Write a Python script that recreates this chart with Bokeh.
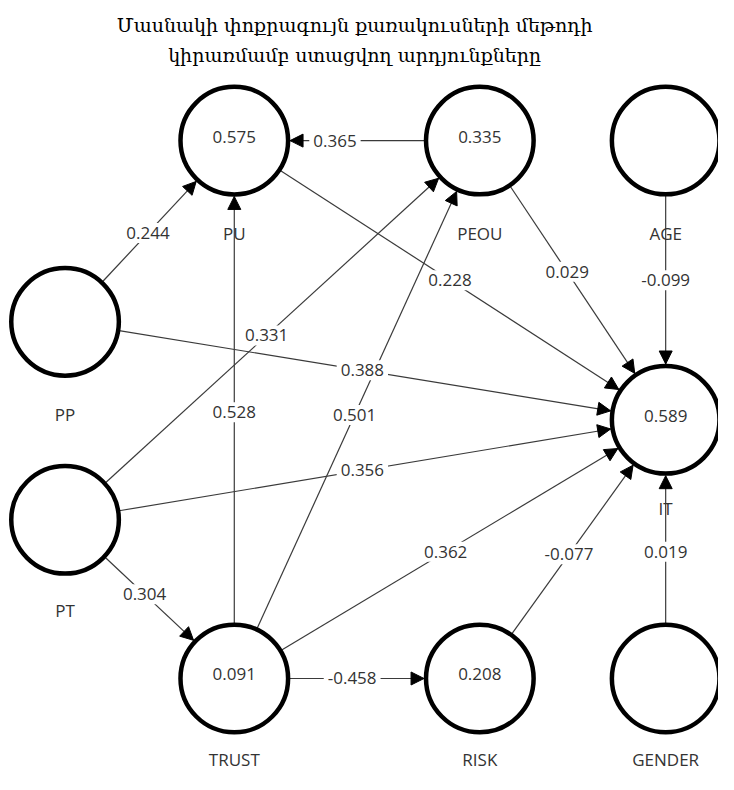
import numpy as np
from bokeh.plotting import figure
from bokeh.models import ColumnDataSource, Arrow, NormalHead, Range1d
from bokeh.core.properties import value
from bokeh.embed import file_html
from bokeh.resources import INLINE

# ---- data ----
title_lines = ["Մասնակի փոքրագույն քառակուսների մեթոդի",
               "կիրառմամբ ստացվող արդյունքները"]
nodes = ["PU", "PEOU", "AGE", "PP", "IT", "PT", "TRUST", "RISK", "GENDER"]
r2 = ["0.575", "0.335", "", "", "0.589", "", "0.091", "0.208", ""]
path_from = ["PP", "PEOU", "PU", "PEOU", "AGE", "PT", "PP", "TRUST", "TRUST",
             "PT", "TRUST", "RISK", "GENDER", "PT", "TRUST"]
path_to = ["PU", "PU", "IT", "IT", "IT", "PEOU", "IT", "PU", "PEOU",
           "IT", "IT", "IT", "IT", "TRUST", "RISK"]
coef = ["0.244", "0.365", "0.228", "0.029", "-0.099", "0.331", "0.388", "0.528",
        "0.501", "0.356", "0.362", "-0.077", "0.019", "0.304", "-0.458"]

# ---- layout (image-pixel coordinates) ----
pos = {"PU": (239, 143), "PEOU": (490, 143), "AGE": (680, 143),
       "PP": (66, 328), "IT": (680, 428), "PT": (66, 530),
       "TRUST": (239, 692), "RISK": (490, 692), "GENDER": (680, 692)}
label_t = [0.49, 0.59, 0.5, 0.47, 0.5, 0.486, 0.495, 0.495, 0.49,
           0.495, 0.49, 0.48, 0.49, 0.47, 0.48]
R = 55

W, H = 718, 774
p = figure(width=W, height=H, output_backend="svg", toolbar_location=None,
           x_range=Range1d(0, 734), y_range=Range1d(790, 0), min_border=0)
p.axis.visible = False
p.grid.visible = False
p.outline_line_color = None
p.background_fill_color = "white"

xs0, ys0, xs1, ys1, lx, ly = [], [], [], [], [], []
for a, b, t in zip(path_from, path_to, label_t):
    (x0, y0), (x1, y1) = pos[a], pos[b]
    d = np.hypot(x1 - x0, y1 - y0)
    ux, uy = (x1 - x0) / d, (y1 - y0) / d
    xs0.append(x0 + ux * (R + 1)); ys0.append(y0 + uy * (R + 1))
    xs1.append(x1 - ux * (R + 2)); ys1.append(y1 - uy * (R + 2))
    lx.append(x0 + (x1 - x0) * t); ly.append(y0 + (y1 - y0) * t)

# path lines
p.segment(x0=xs0, y0=ys0, x1=xs1, y1=ys1, line_color="#3a3a3a", line_width=1.2)

# arrow heads only
asrc = ColumnDataSource(dict(x0=xs0, y0=ys0, x1=xs1, y1=ys1))
p.add_layout(Arrow(source=asrc, x_start="x0", y_start="y0", x_end="x1", y_end="y1",
                   line_alpha=0,
                   end=NormalHead(size=13, fill_color="black", line_color="black")))

# path coefficient labels with white background
p.text(x=lx, y=ly, text=coef, text_align="center", text_baseline="middle",
       text_font=value("Open Sans"), text_font_size="17px", text_color="#333333",
       background_fill_color="white", padding=4)

# node circles
nx = [pos[n][0] for n in nodes]
ny = [pos[n][1] for n in nodes]
p.circle(x=nx, y=ny, radius=R, fill_color="white", line_color="black", line_width=4.5)
p.text(x=nx, y=ny, text=r2, text_align="center", text_baseline="middle",
       text_font=value("Open Sans"), text_font_size="17px", text_color="#333333",
       y_offset=-4)

# node names
name_dy = [95, 95, 95, 95, 91, 93, 83, 83, 83]
p.text(x=nx, y=[y + d for y, d in zip(ny, name_dy)], text=nodes, text_align="center",
       text_baseline="middle", text_font=value("Open Sans"), text_font_size="17px",
       text_color="#333333")

# title
p.text(x=[362, 362], y=[25, 56], text=title_lines, text_align="center",
       text_baseline="middle", text_font=value("DejaVu Serif"), text_font_size="19px",
       text_color="black")

open("out.html", "w").write(file_html(p, INLINE))
